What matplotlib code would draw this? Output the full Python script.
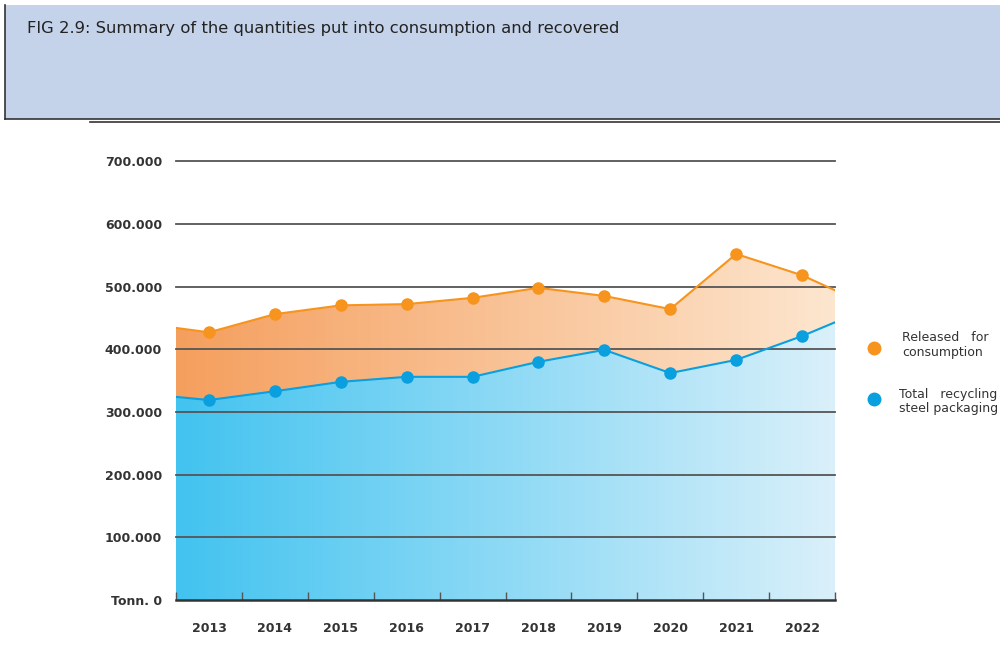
import numpy as np
import matplotlib
matplotlib.use("Agg")
import matplotlib.pyplot as plt
from matplotlib.colors import LinearSegmentedColormap
from matplotlib.patches import Rectangle

# dati (tonnellate)
anni = ["2013", "2014", "2015", "2016", "2017", "2018", "2019", "2020", "2021", "2022"]
immesso = [427000, 456000, 470000, 472000, 482000, 498000, 485000, 464000, 552000, 518000]
riciclo = [319000, 333000, 348000, 356000, 356000, 380000, 399000, 362000, 383000, 421000]
# valori ai bordi dell'area colorata
immesso_bordi = [434000, 494000]
riciclo_bordi = [324000, 443000]

y_ticks = [0, 100000, 200000, 300000, 400000, 500000, 600000, 700000]
y_labels = ["Tonn. 0", "100.000", "200.000", "300.000", "400.000", "500.000", "600.000", "700.000"]

fig = plt.figure(figsize=(10, 6.71), dpi=100)

# intestazione
fig.patches.append(Rectangle((0.005, 0.822), 1.0, 0.171, transform=fig.transFigure,
                             facecolor="#C5D3EA", edgecolor="none"))
fig.add_artist(plt.Line2D([0.005, 0.005], [0.822, 0.993], transform=fig.transFigure,
                          color="#333333", lw=1.2))
fig.add_artist(plt.Line2D([0.005, 1.0], [0.822, 0.822], transform=fig.transFigure,
                          color="#333333", lw=1.2))
fig.add_artist(plt.Line2D([0.09, 1.0], [0.818, 0.818], transform=fig.transFigure,
                          color="#333333", lw=1.2))
fig.text(0.027, 0.957, "FIG 2.9: Summary of the quantities put into consumption and recovered",
         fontsize=11.8, color="#222222", va="center")

ax = fig.add_axes([0.176, 0.1058, 0.659, 0.654])

x = np.arange(len(anni))
xe = np.concatenate([[-0.5], x, [9.5]])
top = np.concatenate([[immesso_bordi[0]], immesso, [immesso_bordi[1]]])
mid = np.concatenate([[riciclo_bordi[0]], riciclo, [riciclo_bordi[1]]])

cmap_or = LinearSegmentedColormap.from_list("or", ["#F59F5E", "#FDE6CF"])
cmap_bl = LinearSegmentedColormap.from_list("bl", ["#42C3F0", "#DAF0FA"])
grad = np.linspace(0, 1, 256).reshape(1, -1)

for lo, hi, cm in [(mid, top, cmap_or), (np.zeros_like(mid), mid, cmap_bl)]:
    poly = ax.fill_between(xe, lo, hi, color="none", lw=0)
    im = ax.imshow(grad, cmap=cm, aspect="auto", extent=[-0.5, 9.5, 0, 700000],
                   zorder=1, interpolation="bicubic")
    im.set_clip_path(poly.get_paths()[0], transform=ax.transData)

for yv in y_ticks[1:]:
    ax.axhline(yv, color="#555555", lw=1.3, zorder=2, clip_on=False)

ax.plot(xe, top, color="#F7941D", lw=1.5, zorder=3)
ax.plot(x, immesso, "o", color="#F7941D", ms=8, zorder=4)
ax.plot(xe, mid, color="#0A9FDE", lw=1.5, zorder=3)
ax.plot(x, riciclo, "o", color="#0A9FDE", ms=8, zorder=4)

ax.set_xlim(-0.5, 9.5)
ax.set_ylim(0, 700000)
for s in ["top", "right", "left"]:
    ax.spines[s].set_visible(False)
ax.spines["bottom"].set_color("#333333")
ax.spines["bottom"].set_linewidth(1.8)
ax.spines["bottom"].set_zorder(5)

ax.set_xticks(np.arange(-0.5, 10, 1))
ax.set_xticklabels([])
ax.set_xticks(x, minor=True)
ax.set_xticklabels(anni, minor=True, fontsize=9, fontweight="bold", color="#333333")
ax.tick_params(axis="x", which="major", direction="in", length=6, color="#555555", width=1)
ax.tick_params(axis="x", which="minor", length=0, pad=16)

ax.set_yticks(y_ticks)
ax.set_yticklabels(y_labels, fontsize=9, fontweight="bold", color="#333333")
ax.tick_params(axis="y", length=0, pad=10)

# legenda
fig.text(0.902, 0.486, "Released   for\nconsumption", fontsize=9, color="#333333",
         va="center", linespacing=1.15)
fig.text(0.899, 0.402, "Total   recycling\nsteel packaging", fontsize=9, color="#333333",
         va="center", linespacing=1.15)
ax.plot([1.059], [0.574], "o", color="#F7941D", ms=9, transform=ax.transAxes, clip_on=False)
ax.plot([1.059], [0.457], "o", color="#0A9FDE", ms=9, transform=ax.transAxes, clip_on=False)

fig.savefig("out.png", dpi=100, facecolor="white")
